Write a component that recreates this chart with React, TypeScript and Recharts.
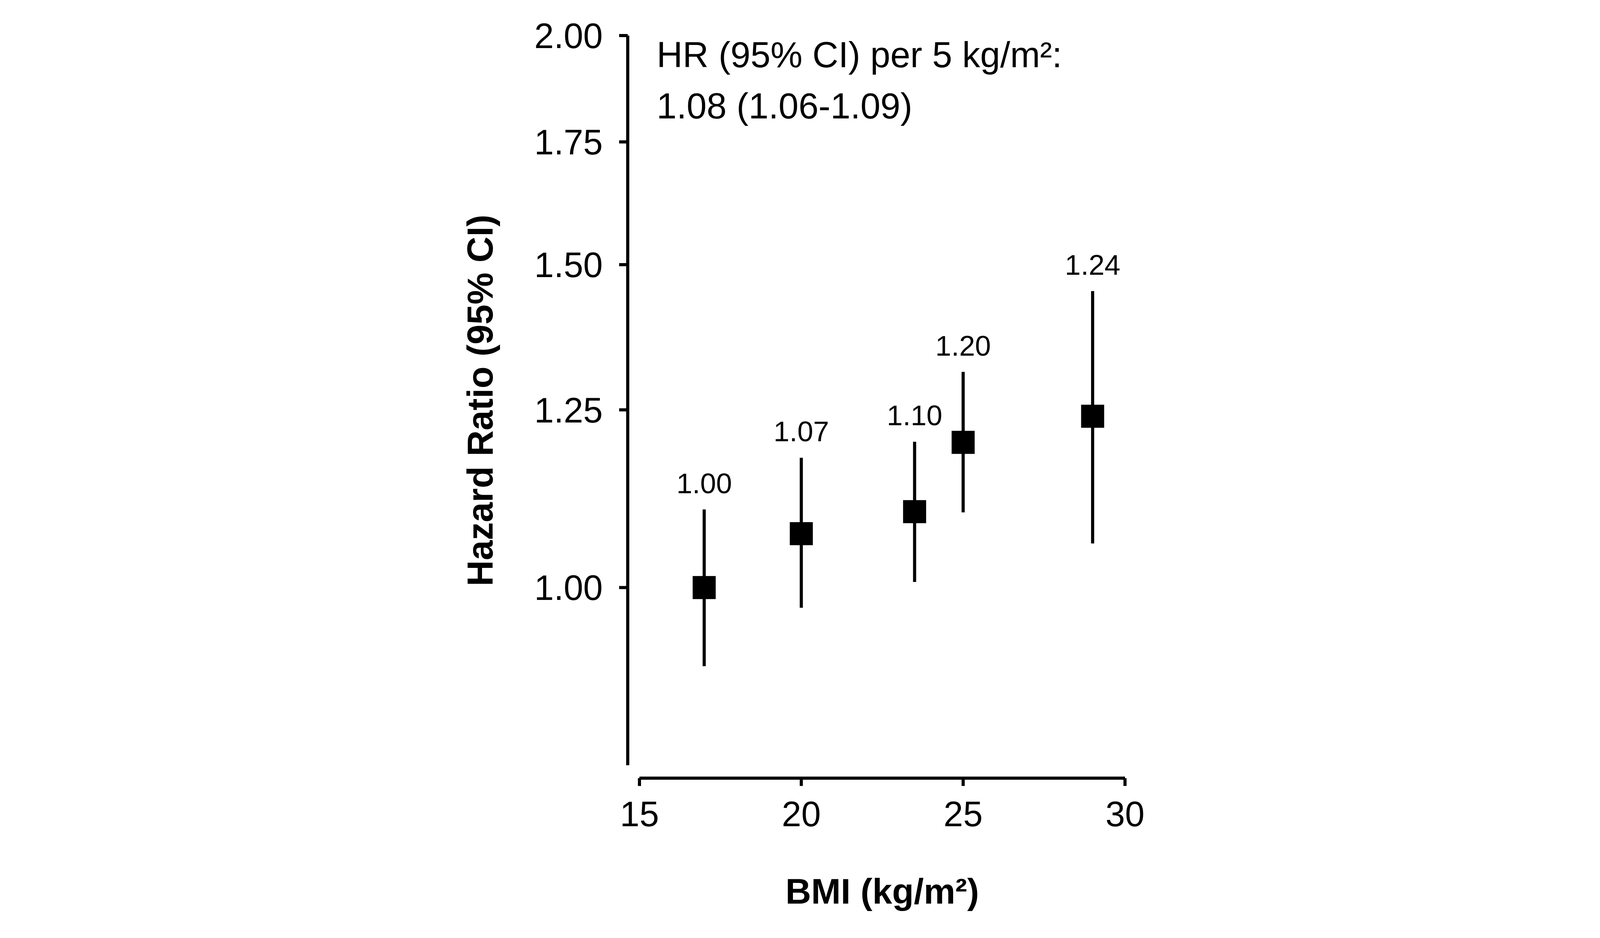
import { ErrorBar, Label, Scatter, ScatterChart, XAxis, YAxis } from "recharts";

const bmi = [17, 20, 23.5, 25, 29];
const hazardRatio = [1.0, 1.07, 1.1, 1.2, 1.24];
const ciLower = [0.906, 0.975, 1.007, 1.099, 1.057];
const ciUpper = [1.103, 1.177, 1.201, 1.311, 1.451];
const xTicks = [15, 20, 25, 30];
const yTicks = [1.0, 1.25, 1.5, 1.75, 2.0];
const summaryLines = ["HR (95% CI) per 5 kg/m²:", "1.08 (1.06-1.09)"];

const FONT = '"Liberation Sans", Arial, Helvetica, sans-serif';

const points = bmi.map((x, i) => ({
  bmi: x,
  y: hazardRatio[i],
  ci: [hazardRatio[i] - ciLower[i], ciUpper[i] - hazardRatio[i]],
}));

// label anchors sit on the upper CI end
const labelPoints = bmi.map((x, i) => ({ bmi: x, y: ciUpper[i], hr: hazardRatio[i] }));

const Square = (p: any) => (
  <rect x={p.cx - 29.5} y={p.cy - 29.5} width={59} height={59} fill="#000" />
);

const HrLabel = (p: any) => (
  <text x={p.cx} y={p.cy - 42} textAnchor="middle" fontSize={73} fontFamily={FONT} fill="#000">
    {p.payload.hr.toFixed(2)}
  </text>
);

const YTitle = (props: any) => {
  const vb = props.viewBox;
  const right = vb.x + vb.width;
  const cy = vb.y + (vb.height - 33) / 2;
  return (
    <g>
      <text
        transform={`translate(${right - 346}, ${cy}) rotate(-90)`}
        textAnchor="middle"
        fontSize={92}
        fontWeight="bold"
        fontFamily={FONT}
        fill="#000"
      >
        Hazard Ratio (95% CI)
      </text>
      {summaryLines.map((line, i) => (
        <text
          key={line}
          x={right + 74}
          y={vb.y + 81 + i * 131}
          fontSize={92}
          fontFamily={FONT}
          fill="#000"
        >
          {line}
        </text>
      ))}
    </g>
  );
};

const XTitle = (props: any) => {
  const vb = props.viewBox;
  return (
    <text
      x={vb.x + 30 + (vb.width - 30) / 2}
      y={vb.y + 321}
      textAnchor="middle"
      fontSize={91}
      fontWeight="bold"
      fontFamily={FONT}
      fill="#000"
    >
      BMI (kg/m²)
    </text>
  );
};

export default function App() {
  return (
    <div style={{ position: "absolute", left: 0, top: 0, background: "#fff" }}>
      <ScatterChart
        width={4200}
        height={2400}
        margin={{ top: 91, right: 1320, bottom: 0, left: 1107 }}
      >
        <XAxis
          type="number"
          dataKey="bmi"
          domain={[15, 30]}
          ticks={xTicks}
          allowDataOverflow
          padding={{ left: 30, right: 0 }}
          height={409}
          axisLine={{ stroke: "#000", strokeWidth: 8, strokeDasharray: "0 30 1243 200" }}
          tickLine={{ stroke: "#000", strokeWidth: 8 }}
          tickSize={20}
          tickMargin={39}
          tick={{ fill: "#000", fontSize: 90, fontFamily: FONT }}
        >
          <Label content={XTitle} />
        </XAxis>
        <YAxis
          type="number"
          dataKey="y"
          scale="log"
          domain={[0.8, 2]}
          ticks={yTicks}
          allowDataOverflow
          padding={{ top: 0, bottom: 33 }}
          width={500}
          axisLine={{ stroke: "#000", strokeWidth: 8, strokeDasharray: "1867 200" }}
          tickLine={{ stroke: "#000", strokeWidth: 8 }}
          tickSize={22}
          tickMargin={42}
          tickFormatter={(v: number) => v.toFixed(2)}
          tick={{ fill: "#000", fontSize: 90, fontFamily: FONT }}
        >
          <Label content={YTitle} />
        </YAxis>
        <Scatter data={points} shape={Square} isAnimationActive={false}>
          <ErrorBar
            dataKey="ci"
            direction="y"
            width={0}
            stroke="#000"
            strokeWidth={8}
            isAnimationActive={false}
          />
        </Scatter>
        <Scatter data={labelPoints} shape={HrLabel} isAnimationActive={false} />
      </ScatterChart>
    </div>
  );
}
